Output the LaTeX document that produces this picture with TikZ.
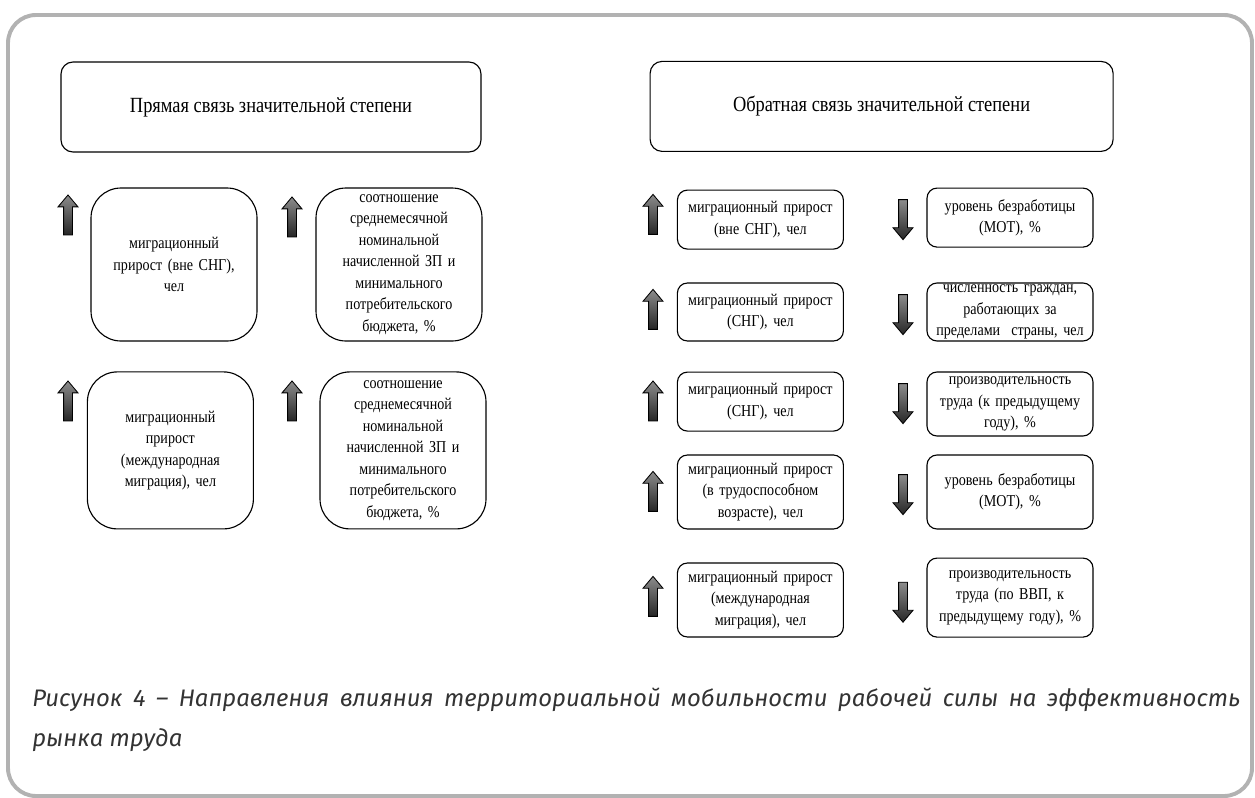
\documentclass[tikz,border=0pt]{standalone}
\usepackage{fontspec}
\setmainfont[FakeStretch=0.85]{Liberation Serif}
\IfFontExistsTF{Fira Sans Book}{\newfontfamily\legende{Fira Sans Book}}{\newfontfamily\legende{Fira Sans}}
\usetikzlibrary{shapes.arrows}

\begin{document}
\begin{tikzpicture}
% Définition des styles
\tikzset{
titre/.style={draw, line width=0.8pt, rounded corners=0.3cm, minimum height=2.25cm, font=\fontsize{15.4}{18}\selectfont},
grand/.style={draw, line width=0.8pt, rounded corners=0.75cm, minimum width=4.15cm, text width=4.1cm, align=center, inner sep=0pt, font=\fontsize{11.8}{15.3}\selectfont},
petit/.style={draw, line width=0.8pt, rounded corners=0.25cm, minimum width=4.15cm, text width=4.1cm, align=center, inner sep=0pt, font=\fontsize{11.8}{15.3}\selectfont},
fleche/.style={single arrow, draw, line width=0.6pt, top color=black!45, bottom color=black!85, minimum height=1cm, inner sep=0.1cm, single arrow head extend=0.14cm, single arrow tip angle=80},
haut/.style={fleche, rotate=90},
bas/.style={fleche, rotate=-90}
}
\useasboundingbox (0,0) rectangle (31.375,-19.95);
% Cadre
\draw[gray!60, line width=2.8pt, rounded corners=0.7cm] (0.2,-0.375) rectangle (31.3,-19.9);
% Titres
\node[titre, minimum width=10.5cm] (directe) at (6.775,-2.675) {Прямая связь значительной степени};
\node[titre, minimum width=11.575cm] (inverse) at (22.04,-2.66) {Обратная связь значительной степени};
% Прямая связь
\node[grand, minimum height=3.825cm] (g1) at (4.35,-6.6125) {миграционный\\прирост (вне СНГ),\\чел};
\node[grand, minimum height=3.825cm] (g2) at (9.975,-6.6125) {соотношение\\среднемесячной\\номинальной\\начисленной ЗП и\\минимального\\потребительского\\бюджета, \%};
\node[grand, minimum height=3.925cm] (g3) at (4.26,-11.26) {миграционный\\прирост\\(международная\\миграция), чел};
\node[grand, minimum height=3.925cm] (g4) at (10.075,-11.26) {соотношение\\среднемесячной\\номинальной\\начисленной ЗП и\\минимального\\потребительского\\бюджета, \%};
\node[haut] (fg1) at (1.7,-5.44) {};
\node[haut] (fg2) at (7.3,-5.49) {};
\node[haut] (fg3) at (1.7,-10.09) {};
\node[haut] (fg4) at (7.3,-10.09) {};
% Обратная связь, gauche
\node[petit, minimum height=1.475cm] (a1) at (19.01,-5.49) {миграционный прирост\\(вне СНГ), чел};
\node[petit, minimum height=1.45cm] (a2) at (19.01,-7.8) {миграционный прирост\\(СНГ), чел};
\node[petit, minimum height=1.475cm] (a3) at (19.01,-10.04) {миграционный прирост\\(СНГ), чел};
\node[petit, minimum height=1.85cm] (a4) at (19.01,-12.3) {миграционный прирост\\(в трудоспособном\\возрасте), чел};
\node[petit, minimum height=1.85cm] (a5) at (19.01,-15.0) {миграционный прирост\\(международная\\миграция), чел};
\node[haut] (fa1) at (16.325,-5.425) {};
\node[haut] (fa2) at (16.325,-7.8) {};
\node[haut] (fa3) at (16.325,-10.09) {};
\node[haut] (fa4) at (16.325,-12.35) {};
\node[haut] (fa5) at (16.325,-14.975) {};
% Обратная связь, droite
\node[petit, minimum height=1.475cm] (b1) at (25.25,-5.44) {уровень безработицы\\(МОТ), \%};
\node[petit, minimum height=1.45cm] (b2) at (25.25,-7.8) {численность граждан,\\работающих за\\пределами~ страны, чел};
\node[petit, minimum height=1.6cm] (b3) at (25.25,-10.1) {производительность\\труда (к предыдущему\\году), \%};
\node[petit, minimum height=1.85cm] (b4) at (25.25,-12.3) {уровень безработицы\\(МОТ), \%};
\node[petit, minimum height=1.975cm] (b5) at (25.25,-14.94) {производительность\\труда (по ВВП, к\\предыдущему году), \%};
\node[bas] (fb1) at (22.575,-5.425) {};
\node[bas] (fb2) at (22.575,-7.8) {};
\node[bas] (fb3) at (22.575,-10.025) {};
\node[bas] (fb4) at (22.575,-12.3) {};
\node[bas] (fb5) at (22.575,-14.99) {};
% Légende
\node[anchor=north west, text width=30.2cm, align=justify, inner sep=0pt, text=black!80, font=\legende\itshape\fontsize{17}{28.5}\selectfont] (texte) at (0.8,-17.2) {Рисунок 4 – Направления влияния территориальной мобильности рабочей силы на эффективность\linebreak рынка труда};
\end{tikzpicture}
\end{document}
